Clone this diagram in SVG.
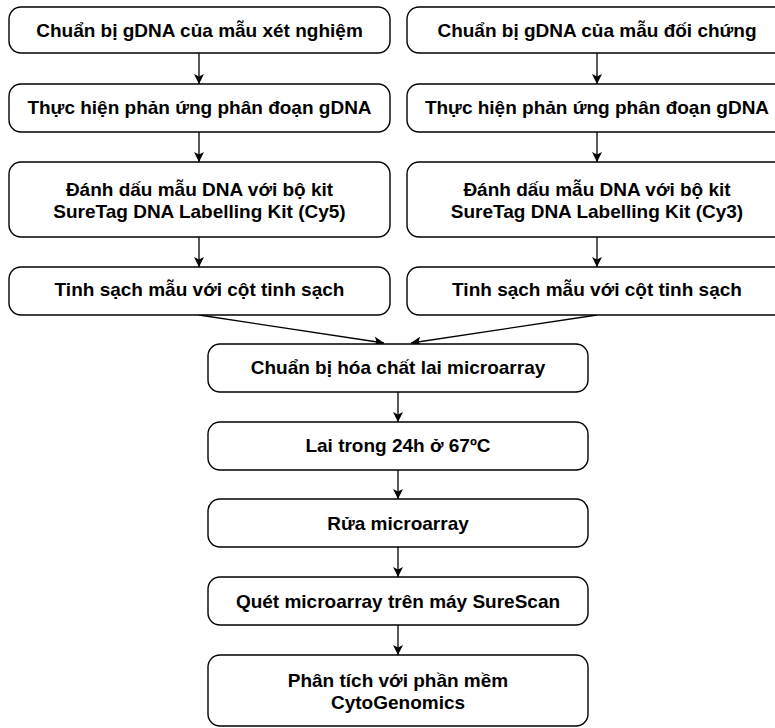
<svg xmlns="http://www.w3.org/2000/svg" width="775" height="728" viewBox="0 0 775 728">
<defs>
<style>
.box{fill:#fff;stroke:#000;stroke-width:1.4}
.t{font-family:"Liberation Sans",Arial,sans-serif;font-weight:bold;font-size:19px;fill:#000;text-anchor:middle}
.c{stroke:#000;stroke-width:1.3;fill:none}
</style>
<marker id="ah" viewBox="0 0 10 10" refX="10" refY="5" markerWidth="10" markerHeight="10" markerUnits="userSpaceOnUse" orient="auto">
<path d="M0,0 L10,5 L0,10 L2.5,5 Z" fill="#000"/>
</marker>
</defs>
<rect width="775" height="728" fill="#fff"/>
<g id="connectors">
<line class="c" x1="199" y1="53" x2="199" y2="84" marker-end="url(#ah)"/>
<line class="c" x1="199" y1="132" x2="199" y2="162" marker-end="url(#ah)"/>
<line class="c" x1="199" y1="237" x2="199" y2="267" marker-end="url(#ah)"/>
<line class="c" x1="597" y1="53" x2="597" y2="84" marker-end="url(#ah)"/>
<line class="c" x1="597" y1="132" x2="597" y2="162" marker-end="url(#ah)"/>
<line class="c" x1="597" y1="237" x2="597" y2="267" marker-end="url(#ah)"/>
<line class="c" x1="199" y1="315" x2="384" y2="343" marker-end="url(#ah)"/>
<line class="c" x1="597" y1="315" x2="411" y2="343" marker-end="url(#ah)"/>
<line class="c" x1="398" y1="392" x2="398" y2="422" marker-end="url(#ah)"/>
<line class="c" x1="398" y1="470" x2="398" y2="499" marker-end="url(#ah)"/>
<line class="c" x1="398" y1="547" x2="398" y2="577" marker-end="url(#ah)"/>
<line class="c" x1="398" y1="625" x2="398" y2="655" marker-end="url(#ah)"/>
</g>
<g id="n1"><rect class="box" x="9" y="7" width="381" height="46" rx="12"/><text class="t" x="199.5" y="37">Chuẩn bị gDNA của mẫu xét nghiệm</text></g>
<g id="n2"><rect class="box" x="9" y="84" width="381" height="48" rx="12"/><text class="t" x="199.5" y="114">Thực hiện phản ứng phân đoạn gDNA</text></g>
<g id="n3"><rect class="box" x="9" y="162" width="381" height="75" rx="12"/><text class="t" x="199.5" y="196">Đánh dấu mẫu DNA với bộ kit</text><text class="t" x="199.5" y="218">SureTag DNA Labelling Kit (Cy5)</text></g>
<g id="n4"><rect class="box" x="9" y="267" width="381" height="48" rx="12"/><text class="t" x="199.5" y="296">Tinh sạch mẫu với cột tinh sạch</text></g>
<g id="n5"><rect class="box" x="407" y="7" width="381" height="46" rx="12"/><text class="t" x="597" y="37">Chuẩn bị gDNA của mẫu đối chứng</text></g>
<g id="n6"><rect class="box" x="407" y="84" width="381" height="48" rx="12"/><text class="t" x="597" y="114">Thực hiện phản ứng phân đoạn gDNA</text></g>
<g id="n7"><rect class="box" x="407" y="162" width="381" height="75" rx="12"/><text class="t" x="597" y="196">Đánh dấu mẫu DNA với bộ kit</text><text class="t" x="597" y="218">SureTag DNA Labelling Kit (Cy3)</text></g>
<g id="n8"><rect class="box" x="407" y="267" width="381" height="48" rx="12"/><text class="t" x="597" y="296">Tinh sạch mẫu với cột tinh sạch</text></g>
<g id="n9"><rect class="box" x="208" y="344" width="380" height="48" rx="12"/><text class="t" x="398" y="374">Chuẩn bị hóa chất lai microarray</text></g>
<g id="n10"><rect class="box" x="208" y="422" width="380" height="48" rx="12"/><text class="t" x="398" y="452">Lai trong 24h ở 67ºC</text></g>
<g id="n11"><rect class="box" x="208" y="499" width="380" height="48" rx="12"/><text class="t" x="398" y="530">Rửa microarray</text></g>
<g id="n12"><rect class="box" x="208" y="577" width="380" height="48" rx="12"/><text class="t" x="398" y="608">Quét microarray trên máy SureScan</text></g>
<g id="n13"><rect class="box" x="208" y="655" width="380" height="71" rx="12"/><text class="t" x="398" y="687">Phân tích với phần mềm</text><text class="t" x="398" y="709">CytoGenomics</text></g>
</svg>
